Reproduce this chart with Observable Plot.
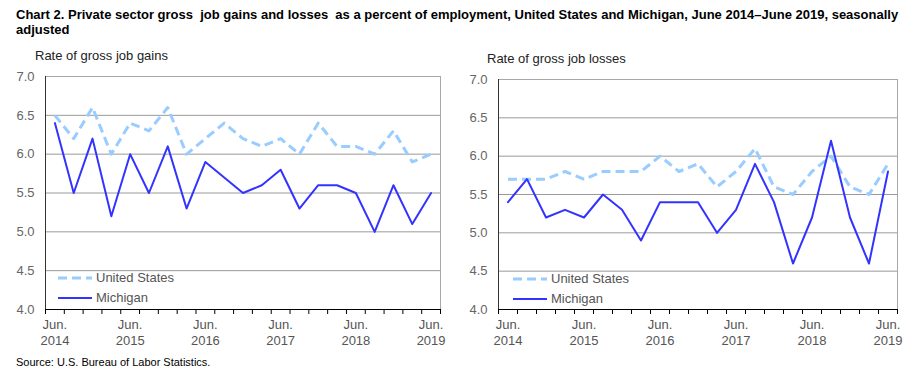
<!DOCTYPE html>
<html><head><meta charset="utf-8">
<script src="https://cdn.jsdelivr.net/npm/d3@7"></script>
<script src="https://cdn.jsdelivr.net/npm/@observablehq/plot@0.6"></script>
<style>
body{margin:0;background:#fff;font-family:"Liberation Sans",Arial,sans-serif;}
#wrap{position:relative;width:918px;height:385px;overflow:hidden;background:#fff;}
.abs{position:absolute;white-space:pre;}
#title{left:16px;top:7px;font-weight:bold;font-size:13px;line-height:15px;color:#000;}
.ytitle{font-size:13px;color:#222;}
.leg{font-size:13px;color:#555;}
#source{left:16px;top:356px;font-size:11px;color:#000;}
</style></head><body><div id="wrap">
<div id="title" class="abs">Chart 2. Private sector gross  job gains and losses  as a percent of employment, United States and Michigan, June 2014–June 2019, seasonally
adjusted</div>
<div id="source" class="abs">Source: U.S. Bureau of Labor Statistics.</div>
</div>
<script>
const quarters = ["Jun 2014","Sep 2014","Dec 2014","Mar 2015","Jun 2015","Sep 2015","Dec 2015","Mar 2016","Jun 2016","Sep 2016","Dec 2016","Mar 2017","Jun 2017","Sep 2017","Dec 2017","Mar 2018","Jun 2018","Sep 2018","Dec 2018","Mar 2019","Jun 2019"];
const xTickLabels = ["Jun.\n2014","Jun.\n2015","Jun.\n2016","Jun.\n2017","Jun.\n2018","Jun.\n2019"];
const yTicks = [4.0,4.5,5.0,5.5,6.0,6.5,7.0];
const seriesNames = ["United States","Michigan"];
const gainsUS = [6.5,6.2,6.6,6.0,6.4,6.3,6.6,6.0,6.2,6.4,6.2,6.1,6.2,6.0,6.4,6.1,6.1,6.0,6.3,5.9,6.0];
const gainsMI = [6.4,5.5,6.2,5.2,6.0,5.5,6.1,5.3,5.9,5.7,5.5,5.6,5.8,5.3,5.6,5.6,5.5,5.0,5.6,5.1,5.5];
const lossesUS = [5.7,5.7,5.7,5.8,5.7,5.8,5.8,5.8,6.0,5.8,5.9,5.6,5.8,6.1,5.6,5.5,5.8,6.0,5.6,5.5,5.9];
const lossesMI = [5.4,5.7,5.2,5.3,5.2,5.5,5.3,4.9,5.4,5.4,5.4,5.0,5.3,5.9,5.4,4.6,5.2,6.2,5.2,4.6,5.8];

const US_COLOR = "#99CCFF", MI_COLOR = "#3333FF";
const wrap = document.getElementById("wrap");

function panel({us, mi, title, left, width, marginLeft, marginRight, marginTop, titlePos, legPos}) {
  const n = quarters.length;
  const usData = us.map((v,i)=>({i, v}));
  const miData = mi.map((v,i)=>({i, v}));
  const bounds = d3.range(n+1).map(k => k - 0.5);
  const labelTicks = xTickLabels.map((_,k)=>k*4);
  const chart = Plot.plot({
    width, height: 289,
    marginLeft, marginRight, marginTop, marginBottom: 40,
    style: {fontFamily: '"Liberation Sans", Arial, sans-serif', fontSize: "13px", background: "transparent", overflow: "visible"},
    x: {domain: [-0.5, n - 0.5], axis: null},
    y: {domain: [yTicks[0], yTicks[yTicks.length-1]], axis: null},
    marks: [
      Plot.gridY(yTicks.slice(1, -1), {stroke: "#9a9a9a", strokeOpacity: 1}),
      Plot.frame({stroke: "#a8a8a8"}),
      Plot.ruleX([bounds[0]], {stroke: "#333"}),
      Plot.ruleY([yTicks[0]], {stroke: "#000"}),
      Plot.axisY({ticks: yTicks, tickSize: 0, tickPadding: 11, tickFormat: d3.format(".1f"), fill: "#666", fontSize: 13, label: null}),
      Plot.axisX({ticks: bounds, tickSize: 5, tickFormat: () => "", stroke: "#000", label: null}),
      Plot.axisX({ticks: labelTicks, tickSize: 0, tickPadding: 8, tickFormat: d => xTickLabels[d/4], fill: "#555", fontSize: 13, lineHeight: 1.22, label: null}),
      Plot.line(usData, {x: "i", y: "v", stroke: US_COLOR, strokeWidth: 3, strokeDasharray: "9,5", strokeLinecap: "butt"}),
      Plot.line(miData, {x: "i", y: "v", stroke: MI_COLOR, strokeWidth: 2})
    ]
  });
  chart.style.position = "absolute";
  chart.style.left = left + "px";
  chart.style.top = "60px";
  wrap.appendChild(chart);

  const t = document.createElement("div");
  t.className = "abs ytitle";
  t.style.left = titlePos[0] + "px"; t.style.top = titlePos[1] + "px";
  t.textContent = title;
  wrap.appendChild(t);

  // legend
  seriesNames.forEach((name, k) => {
    const y = legPos[1] + k * 20;
    const svg = d3.create("svg").attr("width", 36).attr("height", 6)
      .style("position", "absolute").style("left", legPos[0] + "px").style("top", (y - 3) + "px");
    svg.append("line").attr("x1", 0).attr("x2", 34).attr("y1", 3).attr("y2", 3)
      .attr("stroke", k === 0 ? US_COLOR : MI_COLOR)
      .attr("stroke-width", k === 0 ? 3 : 2)
      .attr("stroke-dasharray", k === 0 ? "9,5" : null);
    wrap.appendChild(svg.node());
    const lab = document.createElement("div");
    lab.className = "abs leg";
    lab.style.left = (legPos[0] + 38) + "px"; lab.style.top = (y - 8) + "px";
    lab.textContent = name;
    wrap.appendChild(lab);
  });
}

panel({us: gainsUS, mi: gainsMI, title: "Rate of gross job gains", left: 0, width: 460,
  marginLeft: 45, marginRight: 20, marginTop: 16, titlePos: [35, 48], legPos: [58, 278]});
panel({us: lossesUS, mi: lossesMI, title: "Rate of gross job losses", left: 453, width: 460,
  marginLeft: 45, marginRight: 16, marginTop: 19, titlePos: [487, 51], legPos: [513, 279]});
</script>
</body></html>
